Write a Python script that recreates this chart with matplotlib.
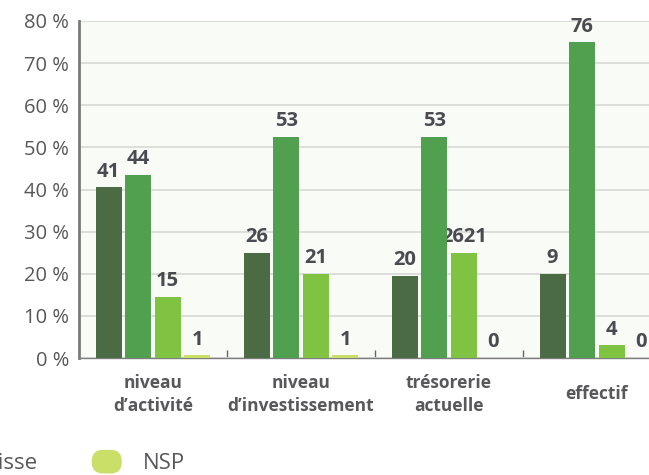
import numpy as np
import matplotlib.pyplot as plt
from matplotlib.patches import FancyBboxPatch, Rectangle
from matplotlib.legend_handler import HandlerPatch

plt.rcParams['font.family'] = ['Open Sans', 'DejaVu Sans']

# categories and series (bar heights, labels as printed)
categories = ["niveau\nd\u2019activit\u00e9", "niveau\nd\u2019investissement",
              "tr\u00e9sorerie\nactuelle", "effectif"]
hausse = [40.5, 25, 19.5, 20]
stable = [43.5, 52.5, 52.5, 75]
baisse = [14.5, 20, 25, 3]
nsp = [0.6, 0.6, 0, 0]
hausse_lbl = ["41", "26", "20", "9"]
stable_lbl = ["44", "53", "53", "76"]
baisse_lbl = ["15", "21", "2621", "4"]
nsp_lbl = ["1", "1", "0", "0"]
legend_names = ["Baisse", "NSP"]
yticks = [0, 10, 20, 30, 40, 50, 60, 70, 80]

colors = ["#4a6b44", "#50a050", "#80c242", "#c9df68"]
text_col = "#58585a"


class RoundHandler(HandlerPatch):
    def create_artists(self, legend, orig_handle, xdescent, ydescent,
                       width, height, fontsize, trans):
        p = FancyBboxPatch((-xdescent, -ydescent), width, height,
                           boxstyle="round,pad=0,rounding_size=8",
                           fc=orig_handle.get_facecolor(), ec="none",
                           transform=trans)
        return [p]


fig = plt.figure(figsize=(6.49, 4.75), dpi=100)
ax = fig.add_axes([0.1217, 0.2463, 0.9122, 0.7095])
ax.set_facecolor("#f9fbf7")

x = np.arange(len(categories))
step = 0.2
width = 0.176
data = [hausse, stable, baisse, nsp]
labels = [hausse_lbl, stable_lbl, baisse_lbl, nsp_lbl]
bars = []
for i, (vals, lbls) in enumerate(zip(data, labels)):
    pos = x + (i - 1.5) * step
    b = ax.bar(pos, vals, width, color=colors[i], zorder=3)
    bars.append(b)
    for px, v, t in zip(pos, vals, lbls):
        ax.annotate(t, (px, v), xytext=(0, 4), textcoords="offset points",
                    ha="center", va="bottom", fontsize=14.5, fontweight="bold",
                    color="#4b4a50", zorder=2.5)

ax.set_xlim(-0.5, 3.5)
ax.set_ylim(0, 80)
ax.set_yticks(yticks)
ax.set_yticklabels([f"{t} %" for t in yticks], fontsize=14.5, color=text_col,
                   va="center_baseline")
ax.tick_params(axis="y", length=0, pad=7)
ax.yaxis.grid(True, color="#d9dbd6", linewidth=1.3)
ax.set_axisbelow(True)

ax.set_xticks(x)
ax.set_xticklabels(categories, fontsize=12.5, fontweight="bold", color=text_col,
                   va="center", linespacing=1.35)
ax.tick_params(axis="x", length=0, pad=26)
ax.set_xticks(x[:-1] + 0.5, minor=True)
ax.tick_params(axis="x", which="minor", direction="in", length=6,
               color="#666666", width=1)

for s in ["top", "right"]:
    ax.spines[s].set_visible(False)
ax.spines["left"].set_color("#7a7a7a")
ax.spines["left"].set_linewidth(2)
ax.spines["bottom"].set_color("#7d7d7d")
ax.spines["bottom"].set_linewidth(1)

# legend is cropped by the left edge in the reference
fig.legend(handles=[bars[2].patches[0], bars[3].patches[0]], labels=legend_names,
           loc="center right", bbox_to_anchor=(185 / 649, 1 - 462 / 475),
           ncol=2, frameon=False, fontsize=16, borderpad=0, borderaxespad=0,
           handlelength=1.35, handleheight=1.26, handletextpad=0.95,
           columnspacing=2.43, labelcolor=text_col,
           handler_map={Rectangle: RoundHandler()})

fig.savefig("out.png", dpi=100)
